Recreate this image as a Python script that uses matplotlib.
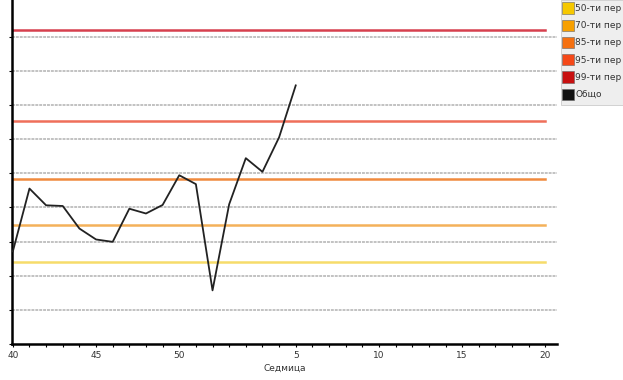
import matplotlib.pyplot as plt
from matplotlib.patches import Patch, Rectangle

weeks = [40, 41, 42, 43, 44, 45, 46, 47, 48, 49, 50, 51, 52,
         1, 2, 3, 4, 5, 6, 7, 8, 9, 10, 11, 12, 13, 14, 15, 16, 17, 18, 19, 20]
total = [2.71, 4.55, 4.06, 4.04, 3.38, 3.06, 2.99, 3.96, 3.82, 4.07,
         4.94, 4.68, 1.57, 4.09, 5.44, 5.04, 6.05, 7.57]

# legend labels are cut off at the picture edge in the original
thr_labels = ['50-ти пер', '70-ти пер', '85-ти пер', '95-ти пер', '99-ти пер']
thr_values = [2.39, 3.47, 4.84, 6.52, 9.19]
thr_line_colors = ['#f6dc6a', '#f4b15a', '#f08a3e', '#ef6f5a', '#d6404e']
thr_patch_colors = ['#f6c800', '#f7a000', '#f57010', '#f54818', '#c81010']

tick_weeks = [40, 45, 50, 5, 10, 15, 20]


def main():
    plt.rc('font', family='DejaVu Sans', size=6.5)

    fig = plt.figure(figsize=(6.23, 3.8), dpi=100)
    ax = fig.add_axes([12 / 623, 36 / 380, 545 / 623, 344 / 380])

    x = list(range(len(weeks)))

    for v in range(1, 10):
        ax.axhline(v, color='#c2c2c2', linewidth=1.4, linestyle=(0, (1.5, 0.5)), zorder=1)

    for val, col in zip(thr_values, thr_line_colors):
        ax.plot([x[0], x[-1]], [val, val], color=col, linewidth=1.8, zorder=2)

    ax.plot(x[:len(total)], total, color='#222222', linewidth=1.3, zorder=3)

    ax.set_xlim(-0.05, 32.7)
    ax.set_ylim(0, 10.07)

    ax.set_xticks([weeks.index(w) for w in tick_weeks])
    ax.set_xticklabels([str(w) for w in tick_weeks])
    ax.set_xticks(x, minor=True)
    ax.tick_params(axis='x', which='both', length=2, width=0.8, pad=3, labelcolor='#333333')
    ax.set_yticks(range(0, 10))
    ax.set_yticklabels([])
    ax.tick_params(axis='y', length=2, width=0.8)

    for s in ['top', 'right']:
        ax.spines[s].set_visible(False)
    ax.spines['left'].set_linewidth(1.8)
    ax.spines['bottom'].set_linewidth(1.8)

    ax.set_xlabel('Седмица', labelpad=3, color='#333333')

    # legend background box running to the right edge
    fig.patches.append(Rectangle((561 / 623, 1 - 105 / 380), 62 / 623, 105 / 380,
                                 transform=fig.transFigure, facecolor='#eeeeee',
                                 edgecolor='#cccccc', linewidth=0.6, zorder=0))

    handles = [Patch(facecolor=c, edgecolor='#666666', linewidth=0.4) for c in thr_patch_colors]
    handles.append(Patch(facecolor='#111111', edgecolor='#666666', linewidth=0.4))
    labels = thr_labels + ['Общо']
    leg = fig.legend(handles, labels, loc='upper left', bbox_to_anchor=(560 / 623, 1.0),
                     frameon=False, handlelength=1.25, handleheight=1.55,
                     handletextpad=0.2, labelspacing=0.66, borderpad=0.25,
                     borderaxespad=0, fontsize=6.5)
    for t in leg.get_texts():
        t.set_color('#333333')

    fig.savefig('out.png', dpi=100)


if __name__ == "__main__": main()
